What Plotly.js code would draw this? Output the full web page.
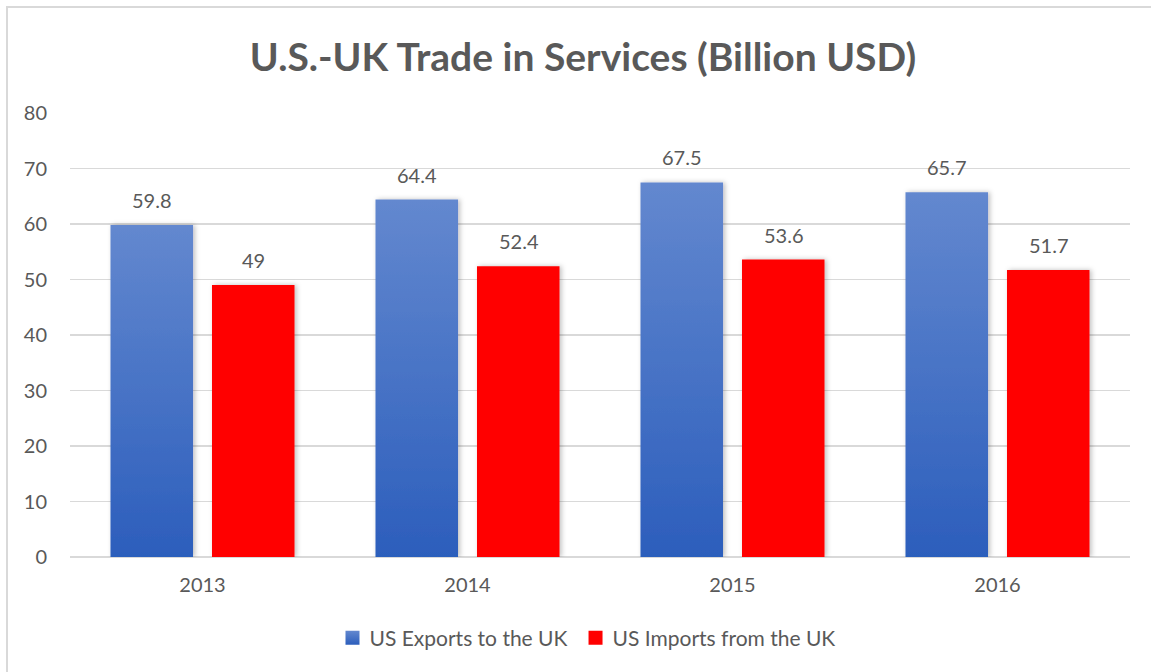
<!DOCTYPE html>
<html>
<head>
<meta charset="utf-8">
<script src="https://cdn.plot.ly/plotly-3.0.1.min.js"></script>
<style>
  html, body { margin: 0; padding: 0; background: #ffffff; }
  #wrap { position: relative; width: 1151px; height: 672px; overflow: hidden; background: #ffffff; }
  #chart { position: absolute; left: 0; top: 0; width: 1151px; height: 672px; }
  #frame { position: absolute; left: 6px; top: 6px; width: 1200px; height: 700px;
           border-left: 2px solid #d9d9d9; border-top: 2px solid #d9d9d9; pointer-events: none; }
</style>
</head>
<body>
<div id="wrap">
  <div id="chart"></div>
  <div id="frame"></div>
</div>
<script>
const categories = ['2013', '2014', '2015', '2016'];
const seriesNames = ['US Exports to the UK', 'US Imports from the UK'];
const exportsUK = [59.8, 64.4, 67.5, 65.7];
const importsUK = [49, 52.4, 53.6, 51.7];
const yTicks = [0, 10, 20, 30, 40, 50, 60, 70, 80];

const FONT = 'Lato, "Open Sans", sans-serif';
const TXT = '#595959';
const BLUE = '#4570c4';
const RED = '#ff0000';

const traces = [
  { type: 'bar', name: seriesNames[0], x: categories, y: exportsUK,
    marker: { color: BLUE }, hoverinfo: 'none' },
  { type: 'bar', name: seriesNames[1], x: categories, y: importsUK,
    marker: { color: RED }, hoverinfo: 'none' }
];

const annotations = [];
[[exportsUK, -51], [importsUK, 51]].forEach(([vals, dx]) => {
  vals.forEach((v, i) => {
    annotations.push({
      x: i, y: v, xref: 'x', yref: 'y',
      text: String(v), showarrow: false,
      xshift: dx, yshift: 25, yanchor: 'middle', xanchor: 'center',
      font: { family: FONT, size: 20, color: TXT }
    });
  });
});

const layout = {
  width: 1151, height: 672,
  margin: { l: 70, r: 21, t: 113, b: 115 },
  paper_bgcolor: 'rgba(0,0,0,0)', plot_bgcolor: 'rgba(0,0,0,0)',
  barmode: 'group', bargap: 0.234, bargroupgap: 0.187,
  title: {
    text: '<b>U.S.-UK Trade in Services (Billion USD)</b>',
    font: { family: FONT, size: 39, color: TXT },
    x: 583 / 1151, xanchor: 'center', xref: 'container',
    y: 1 - 57 / 672, yanchor: 'middle', yref: 'container'
  },
  xaxis: {
    type: 'category', range: [-0.5, 3.5], autorange: false,
    showgrid: false, zeroline: false, showline: false,
    ticks: '', tickfont: { family: FONT, size: 20, color: TXT },
    ticklabelstandoff: 14
  },
  yaxis: {
    range: [0, 80], autorange: false, tickvals: yTicks, showgrid: true, gridcolor: '#d9d9d9', gridwidth: 1.3,
    zeroline: true, zerolinecolor: '#d9d9d9', zerolinewidth: 1.6, showline: false, ticks: '',
    tickfont: { family: FONT, size: 20, color: TXT }, ticklabelstandoff: 22
  },
  showlegend: true,
  legend: {
    orientation: 'h', x: (585 - 70) / 1060, xanchor: 'center', xref: 'paper',
    y: 1 - 638 / 672, yanchor: 'middle', yref: 'container',
    font: { family: FONT, size: 21, color: TXT }, traceorder: 'normal',
    itemclick: false, itemdoubleclick: false
  },
  annotations: annotations
};

Plotly.newPlot('chart', traces, layout, { displayModeBar: false, staticPlot: true }).then(gd => {
  const NS = 'http://www.w3.org/2000/svg';
  const svg = gd.querySelector('svg.main-svg');
  let defs = svg.querySelector('defs');
  if (!defs) { defs = document.createElementNS(NS, 'defs'); svg.insertBefore(defs, svg.firstChild); }
  const grad = document.createElementNS(NS, 'linearGradient');
  grad.setAttribute('id', 'gBlue');
  grad.setAttribute('x1', '0'); grad.setAttribute('y1', '0');
  grad.setAttribute('x2', '0'); grad.setAttribute('y2', '1');
  [['0%', '#6388cf'], ['100%', '#2c5ebc']].forEach(([o, c]) => {
    const s = document.createElementNS(NS, 'stop');
    s.setAttribute('offset', o); s.setAttribute('stop-color', c);
    grad.appendChild(s);
  });
  defs.appendChild(grad);
  const filt = document.createElementNS(NS, 'filter');
  filt.setAttribute('id', 'shadow');
  filt.setAttribute('x', '-20%'); filt.setAttribute('y', '-5%');
  filt.setAttribute('width', '140%'); filt.setAttribute('height', '110%');
  const ds = document.createElementNS(NS, 'feDropShadow');
  ds.setAttribute('dx', '2'); ds.setAttribute('dy', '0');
  ds.setAttribute('stdDeviation', '2.5');
  ds.setAttribute('flood-color', '#000'); ds.setAttribute('flood-opacity', '0.25');
  filt.appendChild(ds);
  defs.appendChild(filt);
  const barTraces = gd.querySelectorAll('.barlayer .trace');
  barTraces.forEach((t, ti) => {
    t.querySelectorAll('path').forEach(p => {
      if (ti === 0) p.style.fill = 'url(#gBlue)';
      p.setAttribute('filter', 'url(#shadow)');
    });
  });
  const legTraces = gd.querySelectorAll('.legend .traces');
  legTraces.forEach((t, ti) => {
    t.querySelectorAll('.legendpoints path').forEach(p => {
      if (ti === 0) p.style.fill = 'url(#gBlue)';
      p.setAttribute('d', 'M10,7H-4V-7H10Z');
      p.style.strokeWidth = '0';
    });
  });
});
</script>
</body>
</html>
